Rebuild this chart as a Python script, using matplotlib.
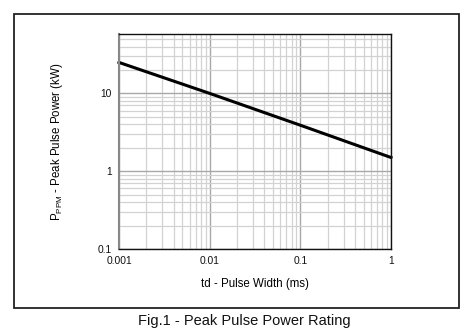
import matplotlib
matplotlib.use("Agg")
import matplotlib.pyplot as plt
from matplotlib.patches import Rectangle
from matplotlib.ticker import LogLocator, FixedLocator, NullFormatter

plt.rcParams['font.family'] = ['Liberation Sans', 'DejaVu Sans']

# Pulse width (ms) and peak pulse power (kW)
pulse_width = [0.001, 0.01, 0.1, 1.0]
peak_power = [25.0, 10.0, 3.9, 1.5]

x_ticks = [0.001, 0.01, 0.1, 1]
x_tick_labels = ["0.001", "0.01", "0.1", "1"]
y_ticks = [0.1, 1, 10]
y_tick_labels = ["0.1", "1", "10"]

W, H = 476, 329
fig = plt.figure(figsize=(W / 100, H / 100), dpi=100)

# Outer frame
fig.add_artist(Rectangle((14 / W, 1 - 308 / H), 445 / W, 294 / H,
                         transform=fig.transFigure, fill=False,
                         edgecolor="#222222", linewidth=1.3))

ax = fig.add_axes([119 / W, 1 - 249 / H, 272 / W, 215 / H])
ax.set_xscale("log")
ax.set_yscale("log")
ax.set_xlim(0.001, 1)
ax.set_ylim(0.1, 58)

ax.xaxis.set_major_locator(FixedLocator(x_ticks))
ax.set_xticklabels(x_tick_labels)
ax.yaxis.set_major_locator(FixedLocator(y_ticks))
ax.set_yticklabels(y_tick_labels)
ax.xaxis.set_minor_locator(LogLocator(base=10, subs=range(2, 10)))
ax.yaxis.set_minor_locator(LogLocator(base=10, subs=range(2, 10)))
ax.xaxis.set_minor_formatter(NullFormatter())
ax.yaxis.set_minor_formatter(NullFormatter())

ax.grid(which="minor", color="#d2d2d2", linewidth=0.9)
ax.grid(which="major", color="#a8a8a8", linewidth=1.0)
ax.set_axisbelow(True)
ax.tick_params(which="both", length=0, labelsize=7.4, pad=5, colors="#111111")

for s in ["top", "right", "bottom"]:
    ax.spines[s].set_color("#111111")
    ax.spines[s].set_linewidth(1.0)
ax.spines["left"].set_color("#888888")
ax.spines["left"].set_linewidth(1.5)

ax.plot(pulse_width, peak_power, color="black", linewidth=2.2, clip_on=False)

ax.set_xlabel("td - Pulse Width (ms)", fontsize=8.3, labelpad=9)
ax.set_ylabel(r"P$_{\mathregular{PPM}}$ - Peak Pulse Power (kW)", fontsize=8.3, labelpad=24)

fig.text(244 / W, 1 - 321 / H, "Fig.1 - Peak Pulse Power Rating",
         ha="center", va="center", fontsize=10.5, color="#111111")

fig.savefig("out.png", dpi=100)
